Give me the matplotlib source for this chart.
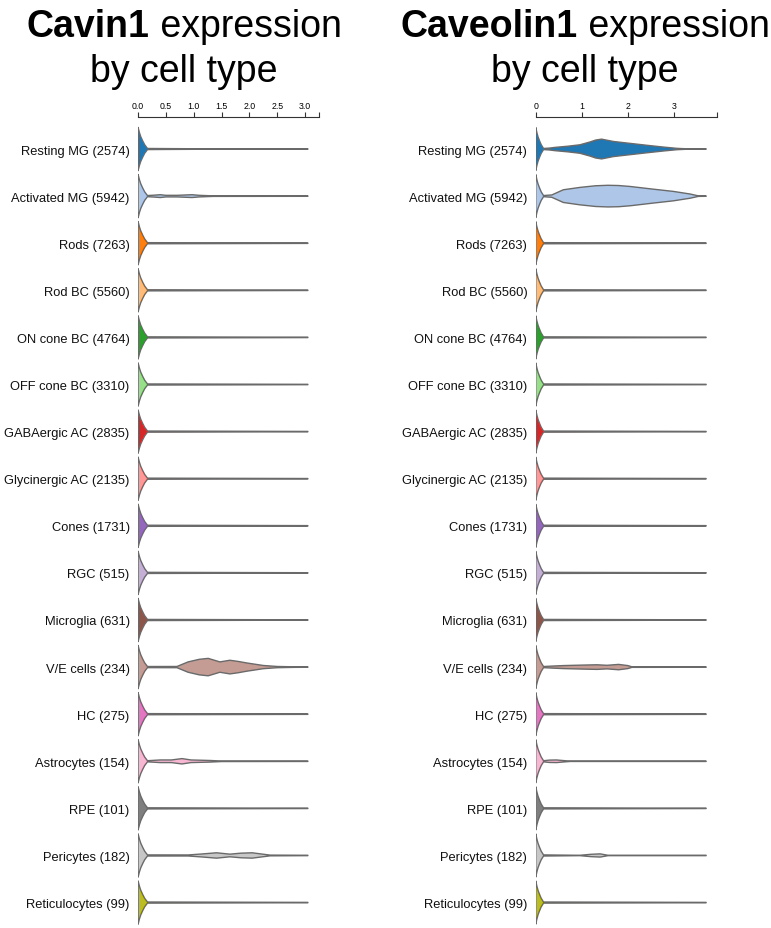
import matplotlib
matplotlib.use("Agg")
import matplotlib.pyplot as plt

plt.rcParams['font.family'] = ['Liberation Sans', 'DejaVu Sans']

cell_types = ["Resting MG", "Activated MG", "Rods", "Rod BC", "ON cone BC",
              "OFF cone BC", "GABAergic AC", "Glycinergic AC", "Cones", "RGC",
              "Microglia", "V/E cells", "HC", "Astrocytes", "RPE", "Pericytes",
              "Reticulocytes"]
cell_counts = [2574, 5942, 7263, 5560, 4764, 3310, 2835, 2135, 1731, 515,
               631, 234, 275, 154, 101, 182, 99]
colors = ["#1f77b4", "#aec7e8", "#ff7f0e", "#ffbb78", "#2ca02c", "#98df8a",
          "#d62728", "#ff9896", "#9467bd", "#c5b0d5", "#8c564b", "#c49c94",
          "#e377c2", "#f7b6d2", "#7f7f7f", "#c7c7c7", "#bcbd22"]

# spike of zeros shared by every violin (half-width in row units)
spike_x = [0.0, 0.01, 0.025, 0.05, 0.085, 0.12, 0.17]
spike_w = [0.46, 0.42, 0.35, 0.26, 0.17, 0.09, 0.012]
line_w = 0.004

cavin1_max = 3.05
cavin1_ticks = [0.0, 0.5, 1.0, 1.5, 2.0, 2.5, 3.0]
cavin1_end = 3.25
cavin1_tails = {
    "Resting MG": ([0.4, 1.0], [0.010, 0.006]),
    "Activated MG": ([0.3, 0.4, 0.5, 0.7, 0.97, 1.1, 1.35],
                     [0.021, 0.030, 0.017, 0.017, 0.030, 0.017, 0.006]),
    "V/E cells": ([0.7, 0.9, 1.1, 1.26, 1.47, 1.65, 1.8, 1.95, 2.25, 2.5, 2.8],
                  [0.013, 0.11, 0.165, 0.185, 0.11, 0.145, 0.12, 0.088, 0.034, 0.013, 0.006]),
    "Astrocytes": ([0.4, 0.6, 0.79, 0.95, 1.29, 1.5],
                   [0.028, 0.028, 0.057, 0.028, 0.017, 0.006]),
    "Pericytes": ([0.9, 1.15, 1.41, 1.65, 1.85, 2.05, 2.37],
                  [0.011, 0.032, 0.057, 0.028, 0.049, 0.057, 0.008]),
}

cav1_max = 3.7
cav1_ticks = [0, 1, 2, 3]
cav1_end = 3.93
cav1_tails = {
    "Resting MG": ([0.3, 0.42, 0.7, 0.96, 1.18, 1.3, 1.43, 1.56, 1.69, 2.05, 2.41, 2.77, 3.07, 3.3],
                   [0.02, 0.035, 0.06, 0.09, 0.15, 0.19, 0.21, 0.185, 0.16, 0.12, 0.08, 0.042, 0.014, 0.004]),
    "Activated MG": ([0.35, 0.6, 0.96, 1.3, 1.57, 1.8, 2.05, 2.55, 2.99, 3.35, 3.53],
                     [0.025, 0.135, 0.185, 0.22, 0.23, 0.225, 0.205, 0.148, 0.1, 0.045, 0.006]),
    "V/E cells": ([0.35, 0.6, 1.0, 1.33, 1.55, 1.8, 2.0, 2.09],
                  [0.021, 0.032, 0.042, 0.049, 0.038, 0.057, 0.032, 0.006]),
    "Astrocytes": ([0.3, 0.45, 0.6, 0.75], [0.025, 0.028, 0.015, 0.004]),
    "Pericytes": ([0.96, 1.2, 1.4, 1.57], [0.004, 0.025, 0.034, 0.004]),
}

W, H = 771, 929
fig = plt.figure(figsize=(W / 100, H / 100), dpi=100)


def draw_panel(left_px, gene, tails, vmax, ticks, xend, tick_fmt, title_cx):
    ax = fig.add_axes([left_px / W, 0, 181 / W, 811 / H])
    for i, name in enumerate(cell_types):
        tx, tw = tails.get(name, ([], []))
        xs = spike_x + list(tx) + [vmax]
        ws = spike_w + list(tw) + [line_w]
        upper = [(x, i - w) for x, w in zip(xs, ws)]
        lower = [(x, i + w) for x, w in zip(xs[::-1], ws[::-1])]
        ax.fill(*zip(*(upper + lower)), facecolor=colors[i], edgecolor="#6a6a6a",
                linewidth=1.0, joinstyle="round")

    ax.set_xlim(0, xend)
    ax.set_ylim(len(cell_types) - 1 + 0.54, -0.68)
    ax.set_yticks(range(len(cell_types)))
    ax.set_yticklabels([f"{n} ({c})" for n, c in zip(cell_types, cell_counts)],
                       fontsize=9.3, color="#111111")
    ax.tick_params(axis="y", length=0, pad=6)
    ax.xaxis.tick_top()
    ax.set_xticks(list(ticks) + [xend])
    ax.set_xticklabels([tick_fmt.format(t) for t in ticks] + [""], fontsize=6.3)
    ax.tick_params(axis="x", direction="out", length=3.6, width=0.8, pad=1.5,
                   color="#333333")
    for s in ["left", "right", "bottom"]:
        ax.spines[s].set_visible(False)
    ax.spines["top"].set_color("#333333")
    ax.spines["top"].set_linewidth(0.8)

    # title: bold gene name plus regular text, centred
    r = fig.canvas.get_renderer()
    y1 = 1 - 37 / H
    t_b = fig.text(0, y1, gene, fontsize=27, weight="bold", va="baseline")
    t_r = fig.text(0, y1, " expression", fontsize=27, va="baseline")
    wb = t_b.get_window_extent(r).width
    wr = t_r.get_window_extent(r).width
    x0 = title_cx - (wb + wr) / 2
    t_b.set_x(x0 / W)
    t_r.set_x((x0 + wb) / W)
    fig.text(title_cx / W, 1 - 82 / H, "by cell type", fontsize=27,
             ha="center", va="baseline")


draw_panel(138, "Cavin1", cavin1_tails, cavin1_max, cavin1_ticks, cavin1_end,
           "{:.1f}", 184)
draw_panel(535.7, "Caveolin1", cav1_tails, cav1_max, cav1_ticks, cav1_end,
           "{:d}", 585)

fig.savefig("out.png", dpi=100)
